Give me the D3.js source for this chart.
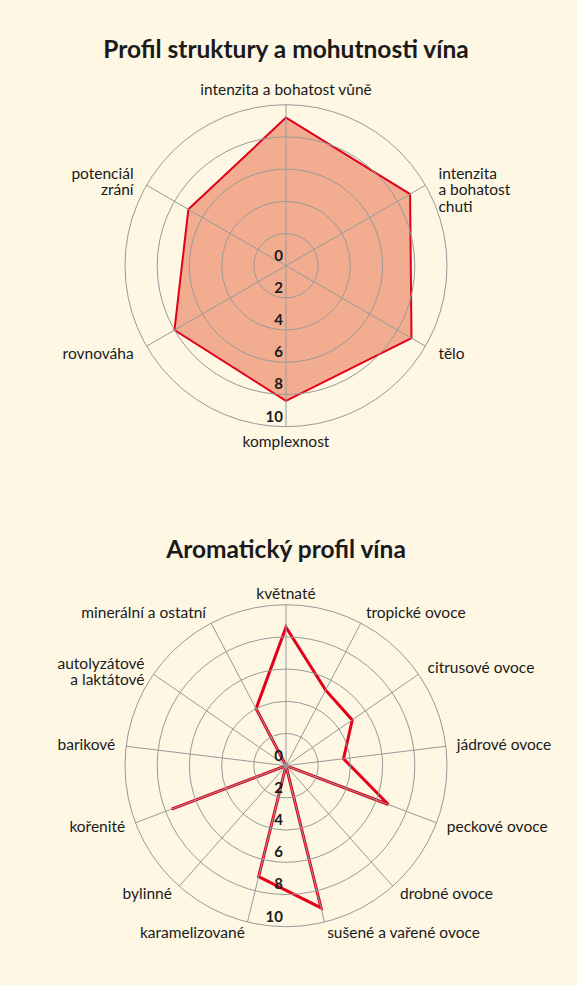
<!DOCTYPE html>
<html>
<head>
<meta charset="utf-8">
<script src="https://cdn.jsdelivr.net/npm/d3@7"></script>
<style>
  body { margin: 0; background: #fdf7e4; }
  svg { display: block; }
  text { font-family: Lato, "Open Sans", sans-serif; fill: #1a1a1a; }
</style>
</head>
<body>
<div id="chart"></div>
<script>
// data
const ticks = [0, 2, 4, 6, 8, 10];

const structureAxes = [
  "intenzita a bohatost vůně",
  "intenzita\na bohatost\nchuti",
  "tělo",
  "komplexnost",
  "rovnováha",
  "potenciál\nzrání"
];
const structureValues = [9.2, 8.9, 9.0, 8.4, 8.0, 7.0];

const aromaAxes = [
  "květnaté",
  "tropické ovoce",
  "citrusové ovoce",
  "jádrové ovoce",
  "peckové ovoce",
  "drobné ovoce",
  "sušené a vařené ovoce",
  "karamelizované",
  "bylinné",
  "kořenité",
  "barikové",
  "autolyzátové\na laktátové",
  "minerální a ostatní"
];
const aromaValues = [8.6, 5.3, 5.0, 3.6, 6.8, 0, 9.1, 7.1, 0, 7.6, 0, 0, 4.0];

let dimensions = {
  width: 577,
  height: 985,
  radius: 161,
  cx: 286
};

const svg = d3.select("#chart").append("svg")
  .attr("width", dimensions.width)
  .attr("height", dimensions.height);

const rScale = d3.scaleLinear().domain([0, 10]).range([0, dimensions.radius]);

function radar(opts) {
  const n = opts.axes.length;
  const angle = (i) => (i * 2 * Math.PI) / n;

  svg.append("text")
    .attr("x", dimensions.cx)
    .attr("y", opts.titleY)
    .attr("text-anchor", "middle")
    .style("font-size", "24.5px")
    .style("font-weight", "bold")
    .text(opts.title);

  const g = svg.append("g")
    .attr("transform", `translate(${dimensions.cx}, ${opts.cy})`);

  // series
  const line = d3.lineRadial()
    .angle((d, i) => angle(i))
    .radius((d) => rScale(d))
    .curve(d3.curveLinearClosed);

  g.append("path")
    .datum(opts.values)
    .attr("d", line)
    .attr("fill", opts.fill)
    .attr("stroke", "#e2001a")
    .attr("stroke-width", opts.strokeWidth)
    .attr("stroke-linejoin", "miter");

  // grid on top
  g.selectAll(".ring")
    .data(ticks.slice(1))
    .join("circle")
    .attr("r", (d) => rScale(d))
    .attr("fill", "none")
    .attr("stroke", "#999")
    .attr("stroke-width", 1);

  g.selectAll(".spoke")
    .data(opts.axes)
    .join("line")
    .attr("x1", 0)
    .attr("y1", 0)
    .attr("x2", (d, i) => rScale(10) * Math.sin(angle(i)))
    .attr("y2", (d, i) => -rScale(10) * Math.cos(angle(i)))
    .attr("stroke", "#999")
    .attr("stroke-width", 1);

  // tick labels
  g.selectAll(".tick")
    .data(ticks)
    .join("text")
    .attr("x", -3)
    .attr("y", (d) => rScale(d) - 5)
    .attr("text-anchor", "end")
    .style("font-size", "15px")
    .style("font-weight", "bold")
    .text((d) => d);

  // axis labels
  opts.axes.forEach((label, i) => {
    const a = angle(i);
    const s = Math.sin(a), c = Math.cos(a);
    const r = rScale(10) + opts.labelGap;
    const x = r * s;
    const y = -r * c;
    const lines = label.split("\n");
    const lh = 16.5;
    let anchor = "middle";
    if (s > 0.05) anchor = "start";
    if (s < -0.05) anchor = "end";
    // multi-line labels hang down from the first line
    const top = lines.length > 1 ? y + 1 : y + 5;
    const t = g.append("text")
      .attr("text-anchor", anchor)
      .style("font-size", "15.5px");
    lines.forEach((l, j) => {
      t.append("tspan")
        .attr("x", x)
        .attr("y", top + j * lh)
        .text(l);
    });
  });
}

radar({
  title: "Profil struktury a mohutnosti vína",
  titleY: 58,
  cy: 265.7,
  axes: structureAxes,
  values: structureValues,
  fill: "#f2ad91",
  strokeWidth: 2,
  labelGap: 15
});

radar({
  title: "Aromatický profil vína",
  titleY: 558,
  cy: 765.7,
  axes: aromaAxes,
  values: aromaValues,
  fill: "none",
  strokeWidth: 3,
  labelGap: 11
});
</script>
</body>
</html>
